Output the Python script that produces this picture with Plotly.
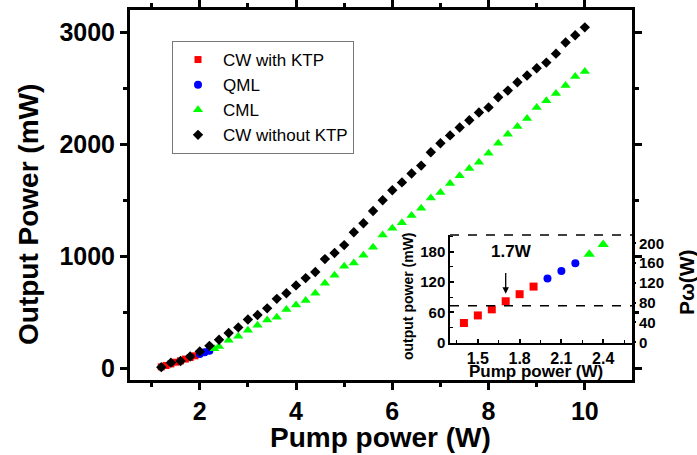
import plotly.graph_objects as go

# ---------------- data ----------------
cw_ktp_x = [1.2, 1.3, 1.4, 1.5, 1.6, 1.7, 1.8, 1.9]
cw_ktp_y = [12, 25, 39, 54, 66, 82, 96, 111]

qml_x = [2.0, 2.1, 2.2]
qml_y = [127, 142, 157]

cml_x = [2.3, 2.4, 2.6, 2.8, 3.0, 3.2, 3.4, 3.6, 3.8, 4.0, 4.2, 4.4, 4.6, 4.8, 5.0,
         5.2, 5.4, 5.6, 5.8, 6.0, 6.2, 6.4, 6.6, 6.8, 7.0, 7.2, 7.4, 7.6, 7.8, 8.0,
         8.2, 8.4, 8.6, 8.8, 9.0, 9.2, 9.4, 9.6, 9.8, 10.0]
cml_y = [175, 194, 250, 285, 340, 385, 430, 455, 525, 565, 605, 670, 760, 830, 910,
         940, 1010, 1080, 1190, 1250, 1300, 1365, 1430, 1520, 1570, 1650, 1720, 1785, 1840, 1920,
         2010, 2090, 2160, 2230, 2330, 2390, 2455, 2525, 2605, 2650]

cw_noktp_x = [1.2, 1.4, 1.6, 1.8, 2.0, 2.2, 2.4, 2.6, 2.8, 3.0, 3.2, 3.4, 3.6, 3.8, 4.0,
              4.2, 4.4, 4.6, 4.8, 5.0, 5.2, 5.4, 5.6, 5.8, 6.0, 6.2, 6.4, 6.6, 6.8, 7.0,
              7.2, 7.4, 7.6, 7.8, 8.0, 8.2, 8.4, 8.6, 8.8, 9.0, 9.2, 9.4, 9.6, 9.8, 10.0]
cw_noktp_y = [10, 50, 65, 105, 150, 200, 255, 315, 365, 435, 475, 535, 620, 670, 740,
              805, 860, 975, 1030, 1100, 1215, 1295, 1405, 1500, 1590, 1660, 1740, 1810, 1930, 2010,
              2080, 2150, 2215, 2285, 2330, 2420, 2480, 2555, 2615, 2680, 2730, 2810, 2910, 2975, 3045]

threshold_pump = 1.7        # W
threshold_out = 73          # mW (dashed line in inset)
arrow_top = 141             # mW
arrow_tip = 97              # mW

main_x_ticks = [2, 4, 6, 8, 10]
main_y_ticks = [0, 1000, 2000, 3000]
inset_x_ticks = [1.5, 1.8, 2.1, 2.4]
inset_x_ticktext = ["1.5", "1.8", "2.1", "2.4"]
inset_y_ticks = [0, 60, 120, 180]
inset_y2_ticks = [0, 40, 80, 120, 160, 200]

FONT = "Liberation Sans, Arial, sans-serif"
RED, BLUE, GREEN, BLACK = "#ff0000", "#0000ff", "#00ff00", "#000000"

# plot-area geometry in pixels (for placing free text)
W, H = 697, 455
L, R, T, B = 130, 65, 10, 75
PW, PH = W - L - R, H - T - B


def px(xp):
    return (xp - L) / PW


def py(yp):
    return (H - B - yp) / PH


def inset_filter(xs, ys, lo=1.35, hi=2.55):
    pts = [(a, b) for a, b in zip(xs, ys) if lo <= a <= hi]
    return [p[0] for p in pts], [p[1] for p in pts]


fig = go.Figure()

# main traces
fig.add_trace(go.Scatter(x=cw_ktp_x, y=cw_ktp_y, mode="markers", name="CW with KTP",
                         marker=dict(symbol="square", size=7, color=RED)))
fig.add_trace(go.Scatter(x=qml_x, y=qml_y, mode="markers", name="QML",
                         marker=dict(symbol="circle", size=8, color=BLUE)))
fig.add_trace(go.Scatter(x=cml_x, y=cml_y, mode="markers", name="CML",
                         marker=dict(symbol="triangle-up", size=9, color=GREEN)))
fig.add_trace(go.Scatter(x=cw_noktp_x, y=cw_noktp_y, mode="markers", name="CW without KTP",
                         marker=dict(symbol="diamond", size=8, color=BLACK)))

# inset traces
for xs, ys, sym, sz, col in [(cw_ktp_x, cw_ktp_y, "square", 8, RED),
                             (qml_x, qml_y, "circle", 8, BLUE),
                             (cml_x, cml_y, "triangle-up", 10, GREEN)]:
    ix, iy = inset_filter(xs, ys)
    fig.add_trace(go.Scatter(x=ix, y=iy, mode="markers", showlegend=False,
                             xaxis="x2", yaxis="y2",
                             marker=dict(symbol=sym, size=sz, color=col)))

# dummy trace to activate yaxis3
fig.add_trace(go.Scatter(x=[None], y=[None], xaxis="x2", yaxis="y3",
                         showlegend=False, hoverinfo="skip"))

main_tick_font = dict(family=FONT, size=25, color="black", weight="bold")
inset_tick_font = dict(family=FONT, size=15, color="black", weight="bold")

fig.update_layout(
    width=W, height=H,
    margin=dict(l=L, r=R, t=T, b=B, autoexpand=False),
    paper_bgcolor="white", plot_bgcolor="white",
    showlegend=True,
    legend=dict(x=px(172), y=py(41), xanchor="left", yanchor="top",
                bgcolor="white", bordercolor="#777777", borderwidth=1,
                font=dict(family=FONT, size=17, color="black"),
                itemwidth=40, tracegroupgap=0),
    xaxis=dict(domain=[0, 1], range=[0.55, 10.98], tickvals=main_x_ticks,
               ticks="outside", ticklen=7, tickwidth=3, tickcolor="black",
               showline=True, linewidth=3, linecolor="black", mirror="ticks",
               showgrid=False, zeroline=False, tickfont=main_tick_font, automargin=False,
               minor=dict(dtick=1, tick0=1, ticks="outside", ticklen=4, tickwidth=3,
                          tickcolor="black", showgrid=False)),
    yaxis=dict(domain=[0, 1], range=[-105, 3200], tickvals=main_y_ticks,
               ticks="outside", ticklen=7, tickwidth=3, tickcolor="black",
               showline=True, linewidth=3, linecolor="black", mirror="ticks",
               showgrid=False, zeroline=False, tickfont=main_tick_font, automargin=False,
               minor=dict(dtick=500, tick0=500, ticks="outside", ticklen=4, tickwidth=3,
                          tickcolor="black", showgrid=False)),
    xaxis2=dict(domain=[px(450), 1.0], anchor="y2", range=[1.3, 2.607],
                tickvals=inset_x_ticks, ticktext=inset_x_ticktext,
                ticks="inside", ticklen=4, tickwidth=1.5, tickcolor="black",
                showline=True, linewidth=1.5, linecolor="black",
                showgrid=False, zeroline=False, automargin=False,
                tickfont=dict(family=FONT, size=16, color="black", weight="bold"),
                minor=dict(dtick=0.15, tick0=1.35, ticks="inside", ticklen=3,
                           tickwidth=1.2, tickcolor="black", showgrid=False)),
    yaxis2=dict(domain=[py(343), py(235)], anchor="x2", range=[-0.5, 213],
                tickvals=inset_y_ticks,
                ticks="inside", ticklen=4, tickwidth=1.5, tickcolor="black",
                showline=True, linewidth=1.5, linecolor="black",
                showgrid=False, zeroline=False, tickfont=inset_tick_font, automargin=False,
                minor=dict(dtick=30, tick0=30, ticks="inside", ticklen=3,
                           tickwidth=1.2, tickcolor="black", showgrid=False)),
    yaxis3=dict(overlaying="y2", anchor="x2", side="right", range=[-1.5, 217],
                tickvals=inset_y2_ticks, automargin=False,
                ticks="outside", ticklen=3, tickwidth=1.5, tickcolor="black",
                showline=False, showgrid=False, zeroline=False,
                tickfont=inset_tick_font),
)

# inset top dashed border & threshold dashed line
fig.add_shape(type="line", xref="x2 domain", yref="y2 domain", x0=0, x1=1, y0=1, y1=1,
              line=dict(color="black", width=1.5, dash="dash"))
fig.add_shape(type="line", xref="x2 domain", yref="y2", x0=0, x1=1,
              y0=threshold_out, y1=threshold_out,
              line=dict(color="black", width=1.5, dash="dash"))

# arrow and label
fig.add_annotation(x=threshold_pump, y=arrow_tip, ax=threshold_pump, ay=arrow_top,
                   xref="x2", yref="y2", axref="x2", ayref="y2", text="", showarrow=True,
                   arrowhead=2, arrowsize=1, arrowwidth=1.3, arrowcolor="black")
fig.add_annotation(x=1.74, y=181, xref="x2", yref="y2", text="1.7W", showarrow=False,
                   font=dict(family=FONT, size=17, color="black", weight="bold"))

# axis titles
fig.add_annotation(x=px(380), y=py(437), xref="paper", yref="paper", text="Pump power (W)",
                   showarrow=False, xanchor="center", yanchor="middle",
                   font=dict(family=FONT, size=28, color="black", weight="bold"))
fig.add_annotation(x=px(28), y=py(215), xref="paper", yref="paper", text="Output Power (mW)",
                   showarrow=False, textangle=-90, xanchor="center", yanchor="middle",
                   font=dict(family=FONT, size=28, color="black", weight="bold"))
# inset titles
fig.add_annotation(x=px(535.5), y=py(371), xref="paper", yref="paper",
                   text="Pump power (W)", showarrow=False, xanchor="center", yanchor="middle",
                   font=dict(family=FONT, size=17, color="black", weight="bold"))
fig.add_annotation(x=px(408), y=py(296), xref="paper", yref="paper",
                   text="output power (mW)", showarrow=False, textangle=-90,
                   xanchor="center", yanchor="middle",
                   font=dict(family=FONT, size=14, color="black", weight="bold"))
fig.add_annotation(x=px(686), y=py(282), xref="paper", yref="paper",
                   text="Pω(W)", showarrow=False, textangle=-90,
                   xanchor="center", yanchor="middle",
                   font=dict(family=FONT, size=21, color="black", weight="bold"))

fig.write_html("out.html", config={"displayModeBar": False},
               post_script="document.body.style.margin='0';document.body.style.padding='0';")
